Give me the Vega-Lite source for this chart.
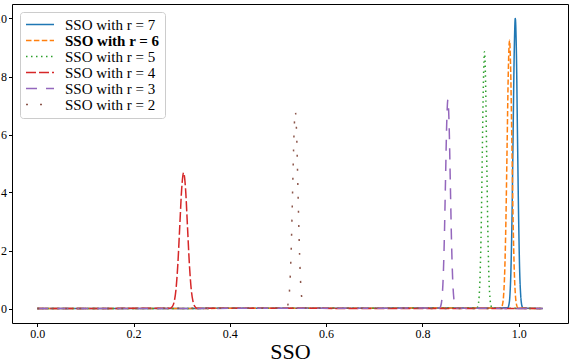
{
  "$schema": "https://vega.github.io/schema/vega-lite/v6.json",
  "width": 556,
  "height": 319,
  "autosize": "none",
  "padding": {"left": 12, "top": 4, "right": 19, "bottom": 40},
  "background": "white",
  "config": {
    "view": {"stroke": "black", "strokeWidth": 1},
    "axis": {
      "domain": false, "grid": false, "tickColor": "black", "tickSize": 3.5, "tickWidth": 1,
      "labelFont": "Liberation Serif", "labelFontSize": 12, "labelColor": "black", "labelPadding": 2,
      "titleFont": "Liberation Serif", "titleFontWeight": "normal", "titleColor": "black"
    },
    "legend": {
      "labelFont": "Liberation Serif", "labelFontSize": 15, "labelColor": "black"
    }
  },
  "data": {"values": [
    {"s": "SSO with r = 7", "x": 0, "y": 0},
    {"s": "SSO with r = 7", "x": 0.9773, "y": 0.022},
    {"s": "SSO with r = 7", "x": 0.9795, "y": 0.111},
    {"s": "SSO with r = 7", "x": 0.9818, "y": 0.439},
    {"s": "SSO with r = 7", "x": 0.984, "y": 1.353},
    {"s": "SSO with r = 7", "x": 0.9863, "y": 3.247},
    {"s": "SSO with r = 7", "x": 0.9885, "y": 6.065},
    {"s": "SSO with r = 7", "x": 0.9908, "y": 8.825},
    {"s": "SSO with r = 7", "x": 0.993, "y": 10.0},
    {"s": "SSO with r = 7", "x": 0.9953, "y": 8.825},
    {"s": "SSO with r = 7", "x": 0.9975, "y": 6.065},
    {"s": "SSO with r = 7", "x": 0.9998, "y": 3.247},
    {"s": "SSO with r = 7", "x": 1.002, "y": 1.353},
    {"s": "SSO with r = 7", "x": 1.0043, "y": 0.439},
    {"s": "SSO with r = 7", "x": 1.0065, "y": 0.111},
    {"s": "SSO with r = 7", "x": 1.0088, "y": 0.022},
    {"s": "SSO with r = 7", "x": 1.05, "y": 0},

    {"s": "SSO with r = 6", "x": 0, "y": 0},
    {"s": "SSO with r = 6", "x": 0.9635, "y": 0.020},
    {"s": "SSO with r = 6", "x": 0.966, "y": 0.103},
    {"s": "SSO with r = 6", "x": 0.9685, "y": 0.406},
    {"s": "SSO with r = 6", "x": 0.971, "y": 1.252},
    {"s": "SSO with r = 6", "x": 0.9735, "y": 3.003},
    {"s": "SSO with r = 6", "x": 0.976, "y": 5.610},
    {"s": "SSO with r = 6", "x": 0.9785, "y": 8.163},
    {"s": "SSO with r = 6", "x": 0.981, "y": 9.25},
    {"s": "SSO with r = 6", "x": 0.9835, "y": 8.163},
    {"s": "SSO with r = 6", "x": 0.986, "y": 5.610},
    {"s": "SSO with r = 6", "x": 0.9885, "y": 3.003},
    {"s": "SSO with r = 6", "x": 0.991, "y": 1.252},
    {"s": "SSO with r = 6", "x": 0.9935, "y": 0.406},
    {"s": "SSO with r = 6", "x": 0.996, "y": 0.103},
    {"s": "SSO with r = 6", "x": 0.9985, "y": 0.020},
    {"s": "SSO with r = 6", "x": 1.05, "y": 0},

    {"s": "SSO with r = 5", "x": 0, "y": 0},
    {"s": "SSO with r = 5", "x": 0.9133, "y": 0.019},
    {"s": "SSO with r = 5", "x": 0.9155, "y": 0.098},
    {"s": "SSO with r = 5", "x": 0.9178, "y": 0.389},
    {"s": "SSO with r = 5", "x": 0.92, "y": 1.197},
    {"s": "SSO with r = 5", "x": 0.9223, "y": 2.874},
    {"s": "SSO with r = 5", "x": 0.9245, "y": 5.368},
    {"s": "SSO with r = 5", "x": 0.9268, "y": 7.810},
    {"s": "SSO with r = 5", "x": 0.929, "y": 8.85},
    {"s": "SSO with r = 5", "x": 0.9313, "y": 7.810},
    {"s": "SSO with r = 5", "x": 0.9335, "y": 5.368},
    {"s": "SSO with r = 5", "x": 0.9358, "y": 2.874},
    {"s": "SSO with r = 5", "x": 0.938, "y": 1.197},
    {"s": "SSO with r = 5", "x": 0.9403, "y": 0.389},
    {"s": "SSO with r = 5", "x": 0.9425, "y": 0.098},
    {"s": "SSO with r = 5", "x": 0.9448, "y": 0.019},
    {"s": "SSO with r = 5", "x": 1.05, "y": 0},

    {"s": "SSO with r = 4", "x": 0, "y": 0},
    {"s": "SSO with r = 4", "x": 0.276, "y": 0.010},
    {"s": "SSO with r = 4", "x": 0.28, "y": 0.052},
    {"s": "SSO with r = 4", "x": 0.284, "y": 0.205},
    {"s": "SSO with r = 4", "x": 0.288, "y": 0.633},
    {"s": "SSO with r = 4", "x": 0.292, "y": 1.520},
    {"s": "SSO with r = 4", "x": 0.296, "y": 2.838},
    {"s": "SSO with r = 4", "x": 0.3, "y": 4.130},
    {"s": "SSO with r = 4", "x": 0.304, "y": 4.68},
    {"s": "SSO with r = 4", "x": 0.308, "y": 4.130},
    {"s": "SSO with r = 4", "x": 0.312, "y": 2.838},
    {"s": "SSO with r = 4", "x": 0.316, "y": 1.520},
    {"s": "SSO with r = 4", "x": 0.32, "y": 0.633},
    {"s": "SSO with r = 4", "x": 0.324, "y": 0.205},
    {"s": "SSO with r = 4", "x": 0.328, "y": 0.052},
    {"s": "SSO with r = 4", "x": 0.332, "y": 0.010},
    {"s": "SSO with r = 4", "x": 1.05, "y": 0},

    {"s": "SSO with r = 3", "x": 0, "y": 0},
    {"s": "SSO with r = 3", "x": 0.8355, "y": 0.016},
    {"s": "SSO with r = 3", "x": 0.838, "y": 0.080},
    {"s": "SSO with r = 3", "x": 0.8405, "y": 0.316},
    {"s": "SSO with r = 3", "x": 0.843, "y": 0.974},
    {"s": "SSO with r = 3", "x": 0.8455, "y": 2.338},
    {"s": "SSO with r = 3", "x": 0.848, "y": 4.367},
    {"s": "SSO with r = 3", "x": 0.8505, "y": 6.354},
    {"s": "SSO with r = 3", "x": 0.853, "y": 7.2},
    {"s": "SSO with r = 3", "x": 0.8555, "y": 6.354},
    {"s": "SSO with r = 3", "x": 0.858, "y": 4.367},
    {"s": "SSO with r = 3", "x": 0.8605, "y": 2.338},
    {"s": "SSO with r = 3", "x": 0.863, "y": 0.974},
    {"s": "SSO with r = 3", "x": 0.8655, "y": 0.316},
    {"s": "SSO with r = 3", "x": 0.868, "y": 0.080},
    {"s": "SSO with r = 3", "x": 0.8705, "y": 0.016},
    {"s": "SSO with r = 3", "x": 1.05, "y": 0},

    {"s": "SSO with r = 2", "x": 0, "y": 0},
    {"s": "SSO with r = 2", "x": 0.5168, "y": 0.015},
    {"s": "SSO with r = 2", "x": 0.5195, "y": 0.075},
    {"s": "SSO with r = 2", "x": 0.5223, "y": 0.299},
    {"s": "SSO with r = 2", "x": 0.525, "y": 0.920},
    {"s": "SSO with r = 2", "x": 0.5278, "y": 2.208},
    {"s": "SSO with r = 2", "x": 0.5305, "y": 4.124},
    {"s": "SSO with r = 2", "x": 0.5333, "y": 6.001},
    {"s": "SSO with r = 2", "x": 0.536, "y": 6.8},
    {"s": "SSO with r = 2", "x": 0.5388, "y": 6.001},
    {"s": "SSO with r = 2", "x": 0.5415, "y": 4.124},
    {"s": "SSO with r = 2", "x": 0.5443, "y": 2.208},
    {"s": "SSO with r = 2", "x": 0.547, "y": 0.920},
    {"s": "SSO with r = 2", "x": 0.5498, "y": 0.299},
    {"s": "SSO with r = 2", "x": 0.5525, "y": 0.075},
    {"s": "SSO with r = 2", "x": 0.5553, "y": 0.015},
    {"s": "SSO with r = 2", "x": 1.05, "y": 0}
  ]},
  "mark": {"type": "line", "strokeWidth": 1.5, "interpolate": "monotone", "clip": true},
  "encoding": {
    "x": {
      "field": "x", "type": "quantitative",
      "scale": {"domain": [-0.0525, 1.1025], "nice": false, "zero": false},
      "axis": {"values": [0, 0.2, 0.4, 0.6, 0.8, 1.0], "format": ".1f", "title": "SSO", "titleFontSize": 22, "titlePadding": 2}
    },
    "y": {
      "field": "y", "type": "quantitative",
      "scale": {"domain": [-0.5, 10.5], "nice": false, "zero": false},
      "axis": {"values": [0, 2, 4, 6, 8, 10], "title": null}
    },
    "color": {
      "field": "s", "type": "nominal",
      "scale": {
        "domain": ["SSO with r = 7", "SSO with r = 6", "SSO with r = 5", "SSO with r = 4", "SSO with r = 3", "SSO with r = 2"],
        "range": ["#1f77b4", "#ff7f0e", "#2ca02c", "#d62728", "#9467bd", "#8c564b"]
      },
      "legend": {
        "title": null, "orient": "top-left", "offset": 8, "padding": 5,
        "fillColor": "white", "strokeColor": "#cccccc", "cornerRadius": 3,
        "symbolType": "stroke", "symbolSize": 784, "symbolStrokeWidth": 1.5,
        "labelOffset": 10, "rowPadding": 0, "clipHeight": 15,
        "encode": {
          "labels": {"update": {"fontWeight": {"signal": "datum.label === 'SSO with r = 6' ? 'bold' : 'normal'"}}}
        }
      }
    },
    "strokeDash": {
      "field": "s", "type": "nominal",
      "scale": {
        "domain": ["SSO with r = 7", "SSO with r = 6", "SSO with r = 5", "SSO with r = 4", "SSO with r = 3", "SSO with r = 2"],
        "range": [[1, 0], [5.5, 2.4], [1.5, 3.5], [10, 3], [11, 9], [2, 12]]
      },
      "legend": {"title": null}
    }
  }
}
